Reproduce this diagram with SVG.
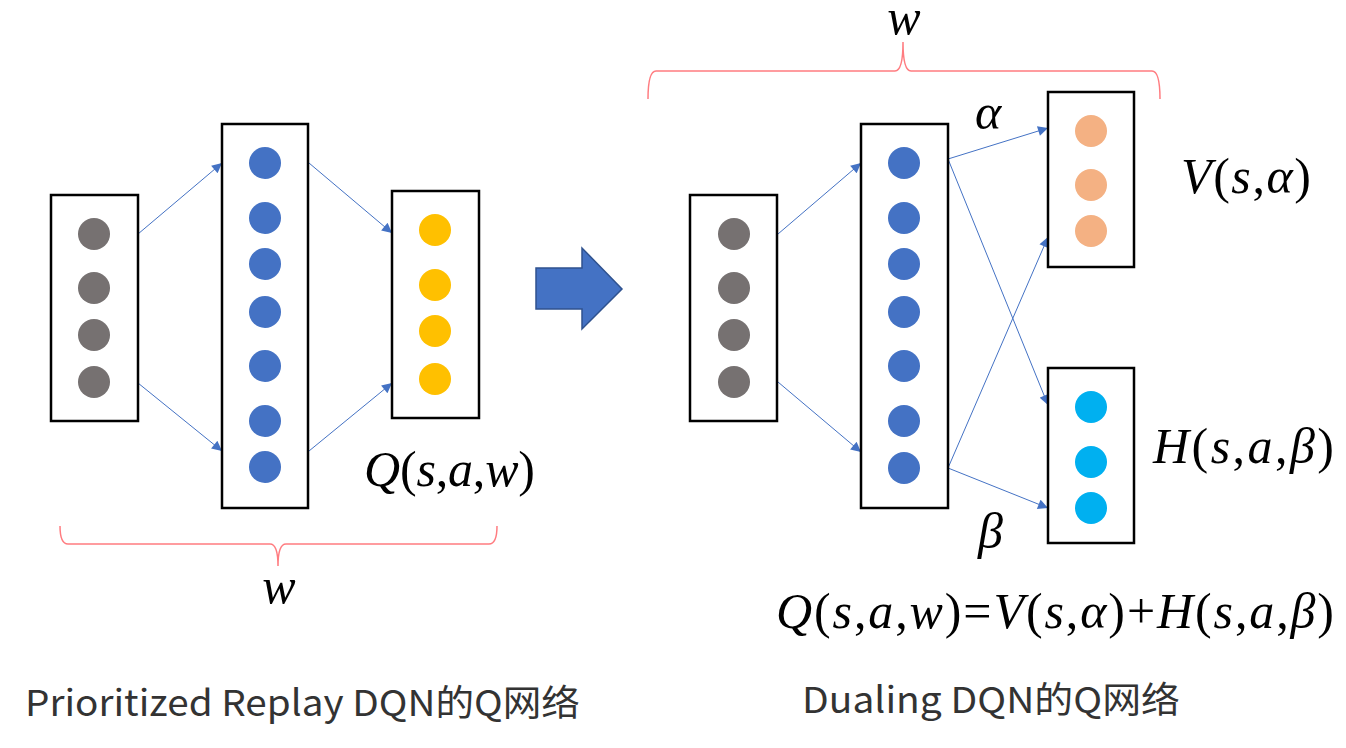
<svg xmlns="http://www.w3.org/2000/svg" width="1346" height="748" viewBox="0 0 1346 748">
<style>
.box{fill:#fff;stroke:#000;stroke-width:2.5}
.g{fill:#767171}.b{fill:#4472C4}.y{fill:#FFC000}.o{fill:#F4B183}.c{fill:#00B0F0}
.con{stroke:#4472C4;stroke-width:1;fill:none;marker-end:url(#ah)}
.br{stroke:#FF7C80;stroke-width:1.5;fill:none}
.m{font-family:"Liberation Serif",serif;font-style:italic;fill:#000}
.u{font-style:normal}
.cap{font-family:"Noto Sans CJK SC","Noto Sans",sans-serif;fill:#333;font-size:36px}
</style>
<defs>
<marker id="ah" viewBox="0 0 10 10" refX="10" refY="5" markerWidth="12" markerHeight="10" markerUnits="userSpaceOnUse" orient="auto">
<path d="M0,0 L10,5 L0,10 z" fill="#4472C4"/>
</marker>
</defs>
<rect width="1346" height="748" fill="#fff"/>

<g id="connectors">
<line class="con" x1="138" y1="234" x2="222" y2="163"/>
<line class="con" x1="138" y1="383" x2="222" y2="451"/>
<line class="con" x1="309" y1="163" x2="392" y2="233"/>
<line class="con" x1="309" y1="451" x2="392" y2="383"/>
<line class="con" x1="778" y1="234" x2="861" y2="163"/>
<line class="con" x1="778" y1="382" x2="861" y2="452"/>
<line class="con" x1="948" y1="159" x2="1048" y2="128"/>
<line class="con" x1="948" y1="159" x2="1048" y2="405"/>
<line class="con" x1="948" y1="468" x2="1048" y2="237"/>
<line class="con" x1="948" y1="468" x2="1048" y2="508"/>
</g>

<g id="left-input">
<rect class="box" x="51" y="195" width="87" height="226"/>
<circle class="g" cx="94" cy="234" r="16"/><circle class="g" cx="94" cy="288" r="16"/>
<circle class="g" cx="94" cy="335" r="16"/><circle class="g" cx="94" cy="382" r="16"/>
</g>
<g id="left-hidden">
<rect class="box" x="222" y="124" width="86" height="384"/>
<circle class="b" cx="265" cy="163" r="16"/><circle class="b" cx="265" cy="218" r="16"/>
<circle class="b" cx="265" cy="264" r="16"/><circle class="b" cx="265" cy="312" r="16"/>
<circle class="b" cx="265" cy="366" r="16"/><circle class="b" cx="265" cy="421" r="16"/>
<circle class="b" cx="265" cy="467" r="16"/>
</g>
<g id="left-output">
<rect class="box" x="392" y="191" width="87" height="227"/>
<circle class="y" cx="435" cy="230" r="16"/><circle class="y" cx="435" cy="285" r="16"/>
<circle class="y" cx="435" cy="331" r="16"/><circle class="y" cx="435" cy="379" r="16"/>
</g>
<text class="m" x="364" y="486" font-size="50" textLength="171" lengthAdjust="spacing">Q<tspan class="u">(</tspan>s<tspan class="u">,</tspan>a<tspan class="u">,</tspan>w<tspan class="u">)</tspan></text>

<path class="br" d="M60,526 Q60,544 68,544 L270,544 Q278,544 278,566 Q278,544 286,544 L489,544 Q497,544 497,526"/>
<text class="m" x="279" y="603" font-size="50" text-anchor="middle">w</text>

<g id="big-arrow">
<path d="M536,268 L582,268 L582,248 L622,289 L582,329 L582,309 L536,309 Z" fill="#4472C4" stroke="#2F528F" stroke-width="1.5"/>
</g>

<path class="br" d="M648,99 Q648,71 656,71 L895,71 Q903,71 903,42 Q903,71 911,71 L1152,71 Q1160,71 1160,99"/>
<text class="m" x="904" y="34" font-size="50" text-anchor="middle">w</text>

<g id="right-input">
<rect class="box" x="690" y="195" width="87" height="226"/>
<circle class="g" cx="734" cy="234" r="16"/><circle class="g" cx="734" cy="288" r="16"/>
<circle class="g" cx="734" cy="335" r="16"/><circle class="g" cx="734" cy="382" r="16"/>
</g>
<g id="right-hidden">
<rect class="box" x="861" y="124" width="87" height="384"/>
<circle class="b" cx="904" cy="163" r="16"/><circle class="b" cx="904" cy="218" r="16"/>
<circle class="b" cx="904" cy="264" r="16"/><circle class="b" cx="904" cy="312" r="16"/>
<circle class="b" cx="904" cy="366" r="16"/><circle class="b" cx="904" cy="421" r="16"/>
<circle class="b" cx="904" cy="468" r="16"/>
</g>
<g id="value-stream">
<rect class="box" x="1048" y="92" width="86" height="175"/>
<circle class="o" cx="1091" cy="131" r="16"/><circle class="o" cx="1091" cy="185" r="16"/>
<circle class="o" cx="1091" cy="231" r="16"/>
</g>
<g id="advantage-stream">
<rect class="box" x="1048" y="368" width="86" height="175"/>
<circle class="c" cx="1091" cy="407" r="16"/><circle class="c" cx="1091" cy="462" r="16"/>
<circle class="c" cx="1091" cy="508" r="16"/>
</g>

<text class="m" x="975" y="129" font-size="50">α</text>
<text class="m" x="978" y="548" font-size="50">β</text>
<text class="m" x="1181" y="193" font-size="50" textLength="130" lengthAdjust="spacing">V<tspan class="u">(</tspan>s<tspan class="u">,</tspan>α<tspan class="u">)</tspan></text>
<text class="m" x="1153" y="463" font-size="50" textLength="181" lengthAdjust="spacing">H<tspan class="u">(</tspan>s<tspan class="u">,</tspan>a<tspan class="u">,</tspan>β<tspan class="u">)</tspan></text>
<text class="m" x="776" y="628" font-size="50" textLength="558" lengthAdjust="spacing">Q<tspan class="u">(</tspan>s<tspan class="u">,</tspan>a<tspan class="u">,</tspan>w<tspan class="u">)=</tspan>V<tspan class="u">(</tspan>s<tspan class="u">,</tspan>α<tspan class="u">)+</tspan>H<tspan class="u">(</tspan>s<tspan class="u">,</tspan>a<tspan class="u">,</tspan>β<tspan class="u">)</tspan></text>

<text class="cap" x="25" y="716" textLength="555" lengthAdjust="spacingAndGlyphs">Prioritized Replay DQN的Q网络</text>
<text class="cap" x="802" y="713" textLength="378" lengthAdjust="spacingAndGlyphs">Dualing DQN的Q网络</text>
</svg>
